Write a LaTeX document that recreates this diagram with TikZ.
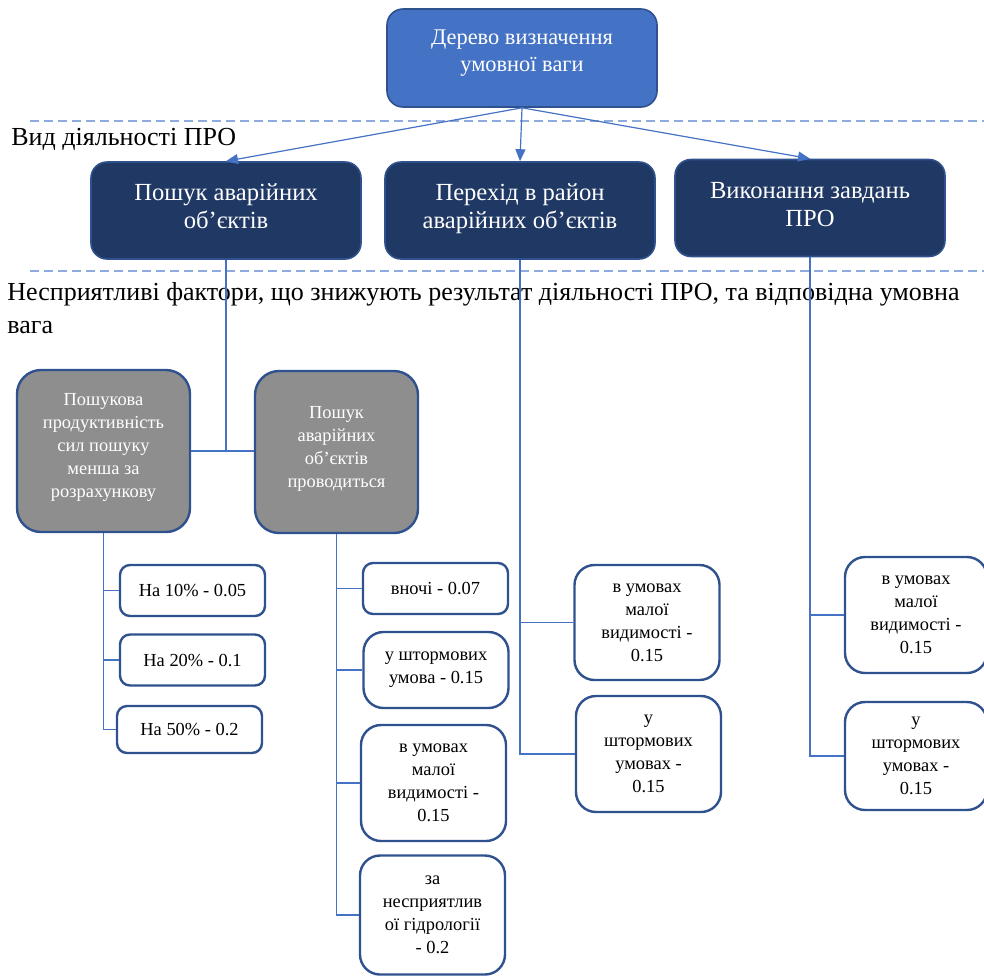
\documentclass[tikz,border=0pt]{standalone}
\usepackage{fontspec}
\setmainfont{Liberation Serif}
\usetikzlibrary{arrows.meta}
\definecolor{rootblue}{HTML}{4472C4}
\definecolor{edgeblue}{HTML}{2F528F}
\definecolor{navy}{HTML}{203864}
\definecolor{greyfill}{HTML}{8E8E8E}
\definecolor{linkblue}{HTML}{4472C4}
\definecolor{dashblue}{HTML}{8FAADC}
\tikzset{
    root/.style = {draw=edgeblue, line width=0.8pt, fill=rootblue, text=white,
        rounded corners=8pt, align=center, minimum width=135pt, minimum height=49pt,
        font=\fontsize{11.2}{13.5}\selectfont},
    kind/.style = {draw=edgeblue, line width=0.8pt, fill=navy, text=white,
        rounded corners=8pt, align=center, minimum width=135pt, minimum height=48.5pt,
        font=\fontsize{12.3}{14}\selectfont},
    factor/.style = {draw=edgeblue, line width=1.2pt, fill=greyfill, text=white,
        rounded corners=12pt, align=center, minimum height=81pt,
        font=\fontsize{9.2}{11.5}\selectfont},
    weight/.style = {draw=edgeblue, line width=1.2pt, fill=white,
        rounded corners=5pt, align=center, minimum width=72.5pt, minimum height=25.5pt,
        font=\fontsize{9.2}{11.5}\selectfont},
    tallweight/.style = {weight, rounded corners=10pt},
    link/.style = {draw=linkblue, line width=0.6pt},
    zone/.style = {draw=dashblue, line width=0.7pt, dash pattern=on 4.5pt off 2.5pt},
    heading/.style = {inner sep=0pt, font=\fontsize{13}{16.5}\selectfont},
}
\begin{document}
\begin{tikzpicture}[x=0.5pt,y=-0.5pt]
\useasboundingbox (0,0) rectangle (984,976);
\clip (0,0) rectangle (984,976);

\draw[zone] (30,121) -- (984,121);
\draw[zone] (30,271) -- (984,271);
\node[heading, anchor=west] (kindtitle) at (11,139) {Вид діяльності ПРО};
\node[heading, anchor=north west, align=left] (factortitle) at (7,282)
    {Несприятливі фактори, що знижують результат діяльності ПРО, та відповідна умовна\\вага};

\node[root] (root) at (522,58) {Дерево визначення\\умовної ваги\\[-6.5pt]};

\node[kind] (pa) at (226,210.5) {Пошук аварійних\\об’єктів\\[-10pt]};
\node[kind] (pb) at (520,210.5) {Перехід в район\\аварійних об’єктів\\[-10pt]};
\node[kind] (pc) at (810,208) {Виконання завдань\\ПРО\\[-10pt]};

\node[factor, minimum width=86.5pt] (ga) at (103.5,451)
    {Пошукова\\продуктивність\\сил пошуку\\менша за\\розрахункову\\[-6pt]};
\node[factor, minimum width=81.5pt] (gb) at (336.5,452)
    {Пошук\\аварійних\\об'єктів\\проводиться\\[-6pt]};

\node[weight] (a1) at (192.5,590.5) {На 10\% - 0.05};
\node[weight] (a2) at (192.5,660) {На 20\% - 0.1};
\node[weight, minimum height=23.5pt] (a3) at (189.5,729.5) {На 50\% - 0.2};

\node[weight] (b1) at (435.5,588.5) {вночі - 0.07};
\node[tallweight, minimum height=38pt] (b2) at (436,670) {у штормових\\умова - 0.15};
\node[tallweight, minimum height=58pt] (b3) at (433.5,783) {в умовах\\малої\\видимості -\\0.15};
\node[tallweight, minimum height=59.5pt] (b4) at (432.5,915) {за\\несприятлив\\ої гідрології\\- 0.2};

\node[tallweight, minimum height=57.5pt] (c1) at (647,622.5) {в умовах\\малої\\видимості -\\0.15};
\node[tallweight, minimum height=58pt] (c2) at (648.5,754) {у\\штормових\\умовах -\\0.15};

\node[tallweight, minimum width=71pt, minimum height=58pt] (d1) at (916,615) {в умовах\\малої\\видимості -\\0.15};
\node[tallweight, minimum width=71pt, minimum height=54pt] (d2) at (916,756) {у\\штормових\\умовах -\\0.15};

\draw[link, -{Triangle[length=6pt,width=5pt]}] (root.south) -- (pa.north);
\draw[link, -{Triangle[length=6pt,width=5pt]}] (root.south) -- (pb.north);
\draw[link, -{Triangle[length=6pt,width=5pt]}] (root.south) -- (pc.north);

\draw[link] (pa.south) -- (pa.south |- ga.east);
\draw[link] (ga.east) -- (ga.east -| gb.west);
\foreach \n in {a1,a2,a3}
    \draw[link] (ga.south) |- (\n.west);
\foreach \n in {b1,b2,b3,b4}
    \draw[link] (gb.south) |- (\n.west);
\foreach \n in {c1,c2}
    \draw[link] (pb.south) |- (\n.west);
\foreach \n in {d1,d2}
    \draw[link] (pc.south) |- (\n.west);

\end{tikzpicture}
\end{document}
